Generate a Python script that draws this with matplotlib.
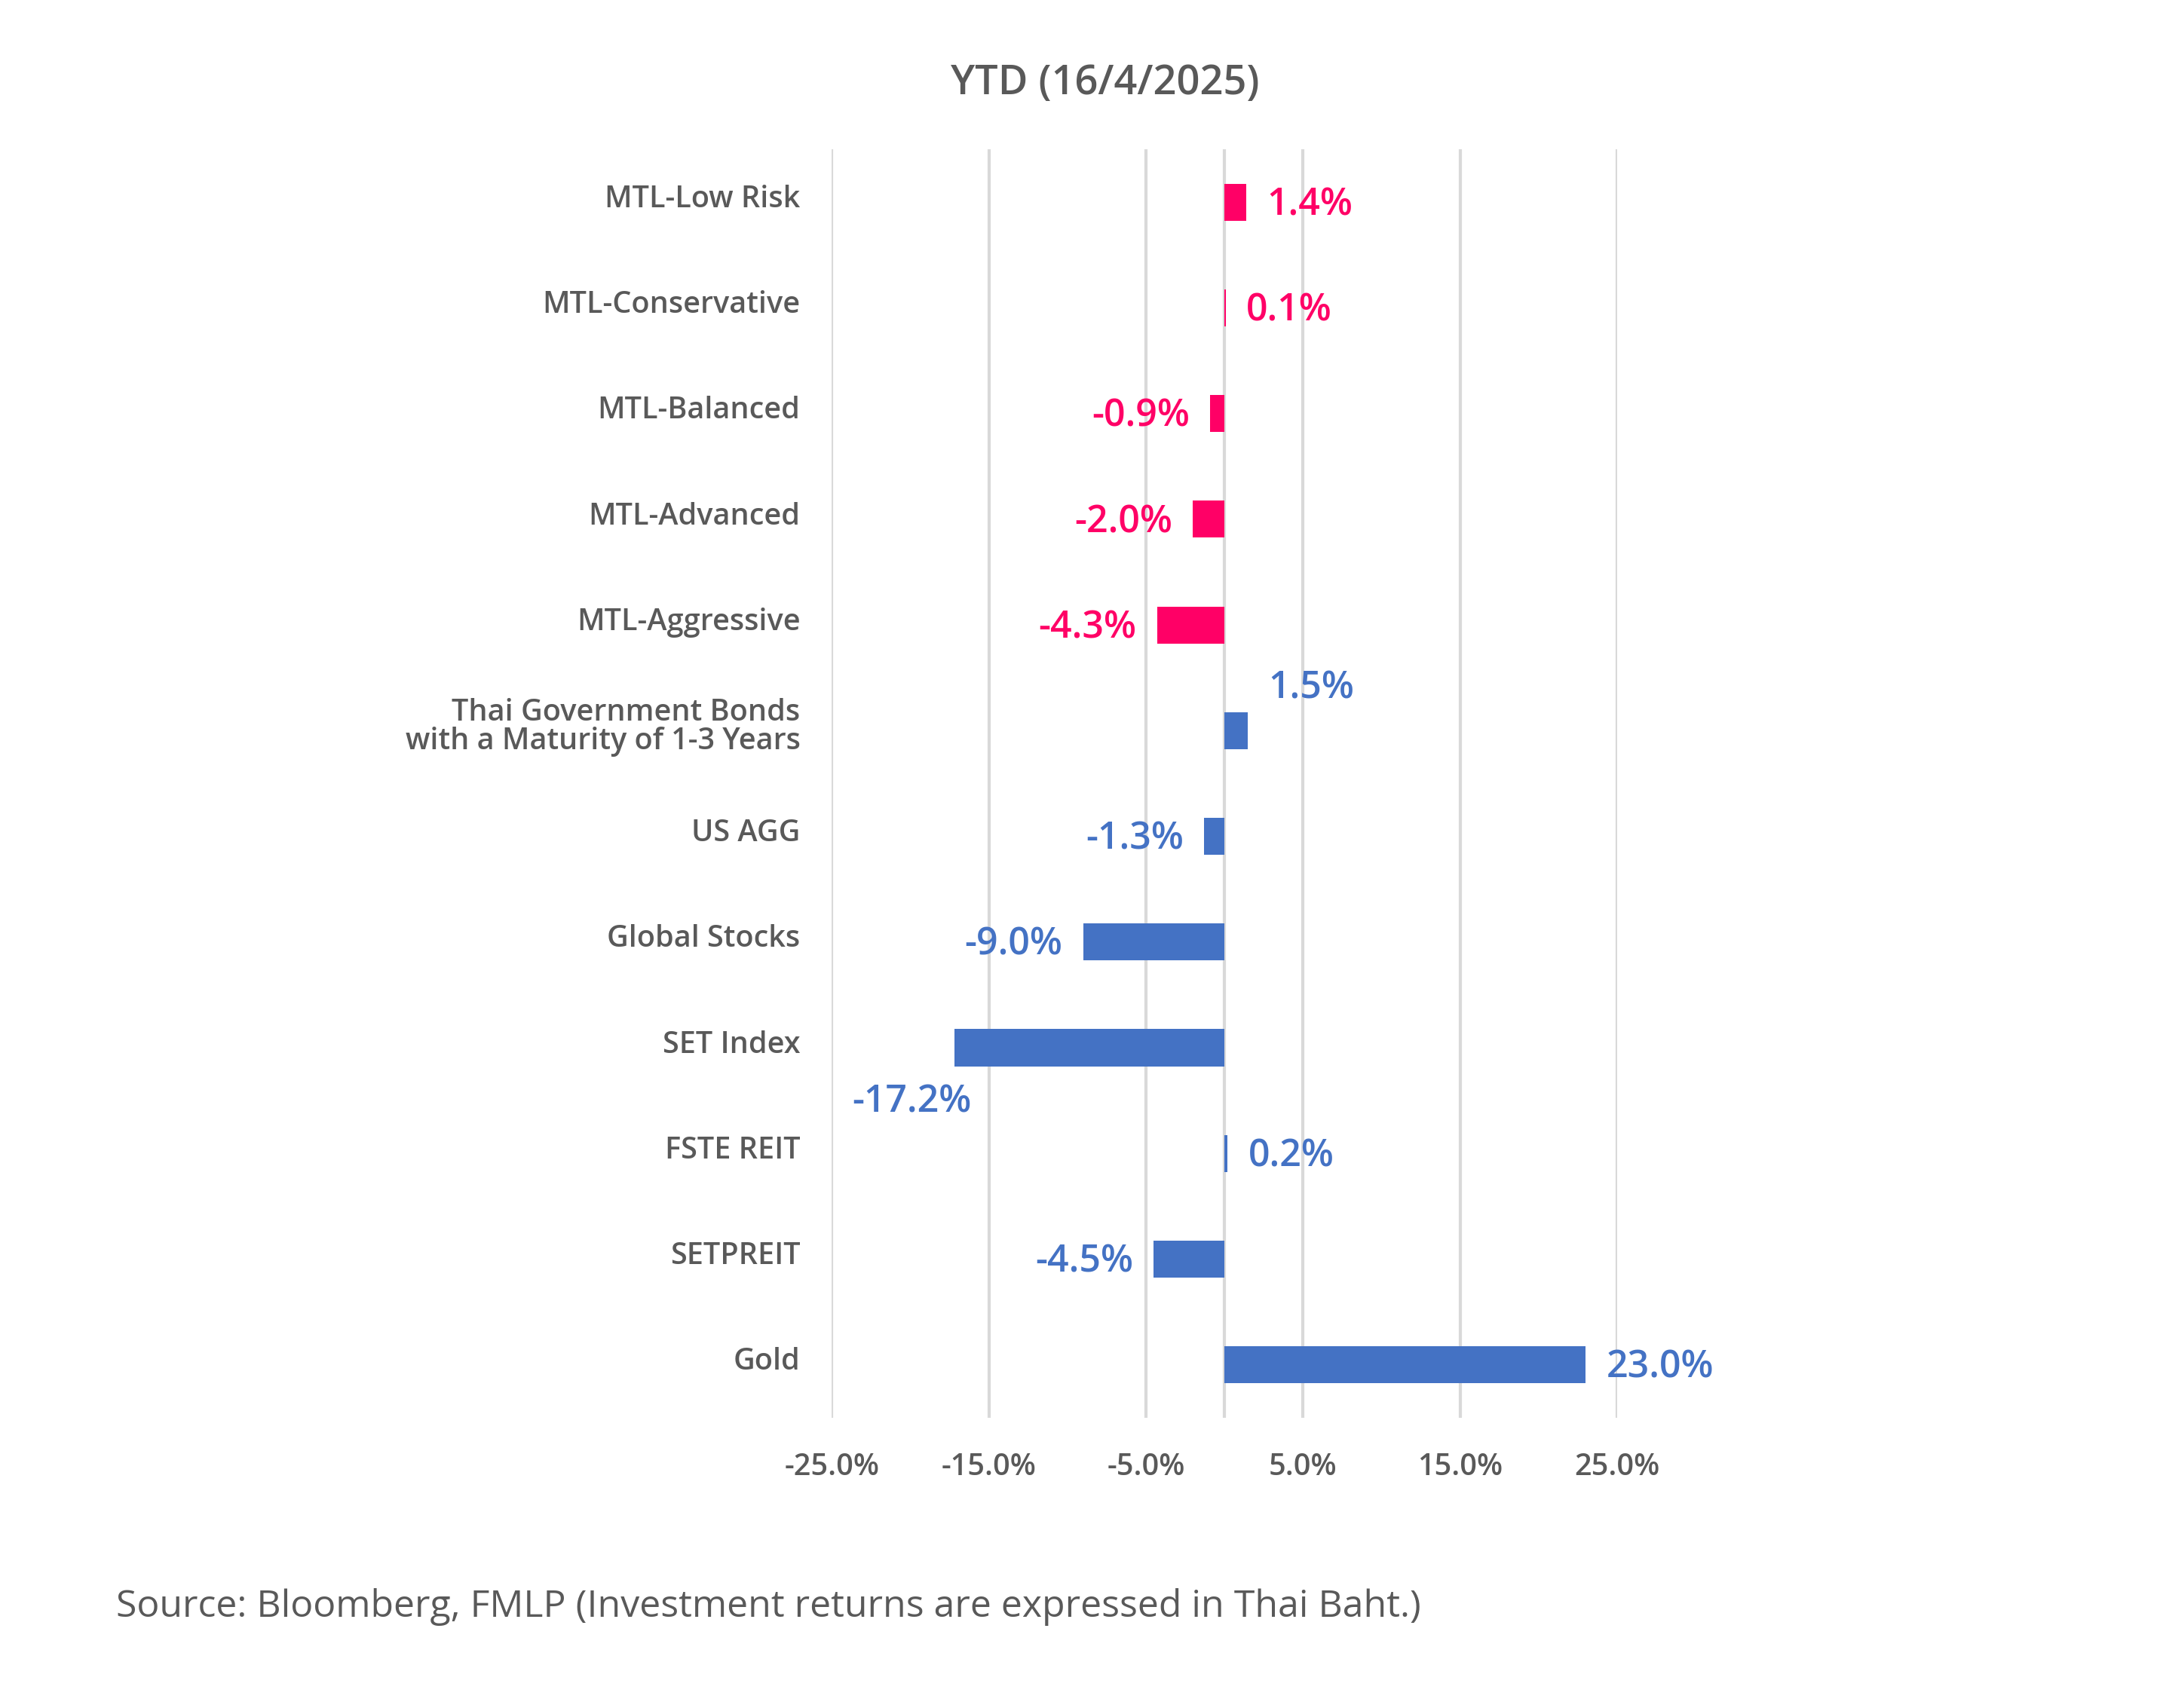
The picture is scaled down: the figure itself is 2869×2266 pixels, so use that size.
import matplotlib.pyplot as plt
import matplotlib.transforms as mtransforms
import numpy as np

categories = ["MTL-Low Risk", "MTL-Conservative", "MTL-Balanced", "MTL-Advanced",
              "MTL-Aggressive", "Thai Government Bonds\nwith a Maturity of 1-3 Years",
              "US AGG", "Global Stocks", "SET Index", "FSTE REIT", "SETPREIT", "Gold"]
returns = [1.4, 0.1, -0.9, -2.0, -4.3, 1.5, -1.3, -9.0, -17.2, 0.2, -4.5, 23.0]
is_mtl = [True, True, True, True, True, False, False, False, False, False, False, False]
xticks = [-25, -15, -5, 5, 15, 25]

PINK = "#FF0066"
BLUE = "#4472C4"
GREY = "#595959"
GRID = "#D9D9D9"

plt.rcParams['font.family'] = ['Open Sans', 'DejaVu Sans']

fig = plt.figure(figsize=(2869 / 300, 2266 / 300), dpi=300)
ax = fig.add_axes([0.3845, 0.170, 0.3632, 0.7426])

y = np.arange(len(categories))
colors = [PINK if m else BLUE for m in is_mtl]
ax.barh(y, returns, height=0.35, color=colors, zorder=3)

ax.set_xlim(-25, 25)
ax.set_ylim(len(categories) - 0.5, -0.5)
ax.set_xticks(xticks)
ax.set_xticklabels([f"{t:.1f}%" for t in xticks], fontsize=9.5, color=GREY, fontweight='semibold')
ax.set_yticks(y)
ax.set_yticklabels(categories, fontsize=9.5, color=GREY, fontweight='semibold', linespacing=0.95)
ax.tick_params(length=0, axis='y', pad=10)
ax.tick_params(length=0, axis='x', pad=11)
ax.grid(axis='x', color=GRID, linewidth=1.0, zorder=0)
ax.axvline(0, color=GRID, linewidth=1.0, zorder=1)
for s in ax.spines.values():
    s.set_visible(False)

# category labels sit a touch above the bar centre in the original
up = mtransforms.ScaledTranslation(0, 2 / 72, fig.dpi_scale_trans)
for lbl in ax.get_yticklabels():
    lbl.set_transform(lbl.get_transform() + up)

# manual label nudges (points) as in the source chart
nudge = {5: (0, 14.5), 8: (12, -16.5)}
for i, v in enumerate(returns):
    dx, dy = nudge.get(i, (0, 0))
    gap = 6.5 if v >= 0 else -6.5
    ax.annotate(f"{v:.1f}%", xy=(v, i), xytext=(gap + dx, dy - 1), textcoords='offset points',
                ha='left' if v >= 0 else 'right', va='center', fontsize=12,
                fontweight='semibold', color=colors[i], annotation_clip=False)

fig.text(0.511, 0.951, "YTD (16/4/2025)", ha='center', va='center', fontsize=13,
         fontweight='semibold', color=GREY)
fig.text(0.0536, 0.059, "Source: Bloomberg, FMLP (Investment returns are expressed in Thai Baht.)",
         ha='left', va='center', fontsize=12, color=GREY)

fig.savefig("out.png", dpi=300, facecolor='white')
